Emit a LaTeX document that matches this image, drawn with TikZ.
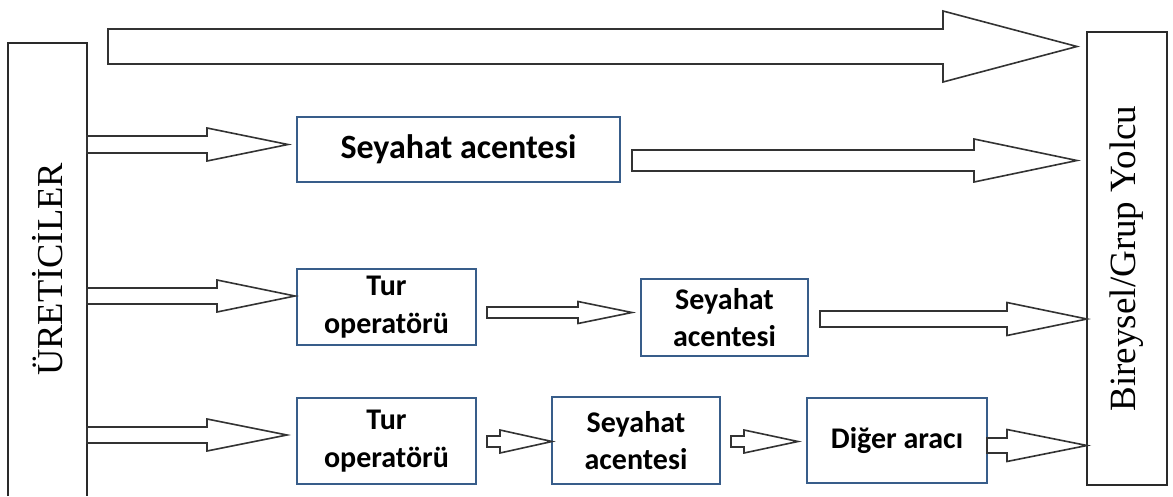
\documentclass[tikz,border=0pt]{standalone}
\usepackage{fontspec}
\setmainfont{Liberation Serif}
\newfontfamily\boxfont{Carlito}
\usetikzlibrary{calc}
\definecolor{boxblue}{HTML}{385D8A}
\definecolor{arrowgray}{HTML}{333333}
\definecolor{sidegray}{HTML}{2A2A2A}
\tikzset{
  sidebox/.style={draw=none, inner sep=0pt, outer sep=0pt},
  sideline/.style={draw=sidegray, line width=1.6pt},
  bluebox/.style={draw=boxblue, line width=2.6pt, fill=white, inner sep=0pt, outer sep=0pt,
    align=center, font=\boxfont\bfseries\fontsize{30}{37.5}\selectfont},
  blockarrow/.style={draw=arrowgray, line width=1.6pt, fill=white, line join=miter}
}
\newcommand{\barrow}[5]{%
  \draw[blockarrow] let \p1=(#1), \p2=(#2) in
    (\x1,\y1+#3) -- (\x2-#5,\y1+#3) -- (\x2-#5,\y1+#4) -- (\x2,\y1)
    -- (\x2-#5,\y1-#4) -- (\x2-#5,\y1-#3) -- (\x1,\y1-#3) -- cycle;}
\begin{document}
\begin{tikzpicture}[x=1pt,y=-1pt]
\useasboundingbox (0,0) rectangle (1173,496);
% side boxes
\node[sidebox, minimum width=79pt, minimum height=453pt] (prod) at (47.5,269.5)
  {\rotatebox{90}{\fontsize{36.5}{40}\selectfont ÜRETİCİLER}};
\draw[sideline] (prod.south west) -- (prod.north west) -- (prod.north east) -- (prod.south east);
\node[sidebox, draw=sidegray, line width=1.6pt, minimum width=80pt, minimum height=453pt] (pax) at (1127,258.5)
  {\rotatebox{90}{\fontsize{37}{40}\selectfont Bireysel/Grup Yolcu}};
% blue boxes
\node[bluebox, minimum width=323pt, minimum height=65pt, font=\boxfont\bfseries\fontsize{34}{40}\selectfont] (sa1) at (458.5,149.5) {Seyahat acentesi};
\node[bluebox, minimum width=179pt, minimum height=76pt] (to1) at (386.5,307) {Tur\\operatörü};
\node[bluebox, minimum width=167pt, minimum height=77pt] (sa2) at (724.5,317.5) {Seyahat\\acentesi};
\node[bluebox, minimum width=179pt, minimum height=86pt] (to2) at (386.5,441) {Tur\\operatörü};
\node[bluebox, minimum width=168pt, minimum height=87pt] (sa3) at (636,440.5) {Seyahat\\acentesi};
\node[bluebox, minimum width=180pt, minimum height=85pt] (da) at (897,440.5) {Diğer aracı};
% arrows
\coordinate (a0s) at (108,46.5);
\barrow{a0s}{$(pax.west)+(-10,0)$}{17.5pt}{35.5pt}{134pt}
\barrow{$(prod.east |- sa1.west)+(0,-5)$}{$(sa1.west)+(-9,0)$}{8.5pt}{16.5pt}{81pt}
\barrow{$(sa1.east)+(12,11)$}{$(pax.west)+(-10,0)$}{10.5pt}{21.5pt}{103pt}
\barrow{$(prod.east |- to1.west)+(0,-11)$}{$(to1.west)+(-2,0)$}{8pt}{16pt}{78pt}
\barrow{$(to1.east)+(11,5.5)$}{$(sa2.west)+(-9,0)$}{5.5pt}{11pt}{54pt}
\barrow{$(sa2.east)+(12,1.5)$}{pax.west}{8pt}{16.5pt}{80pt}
\barrow{$(prod.east |- to2.west)+(0,-6)$}{$(to2.west)+(-10,0)$}{8pt}{16pt}{80pt}
\barrow{$(to2.east)+(11,0.5)$}{sa3.west}{5.5pt}{11.5pt}{52pt}
\barrow{$(sa3.east)+(11,1)$}{$(da.west)+(-9,0)$}{5.5pt}{11.5pt}{54pt}
\barrow{$(da.east)+(0,5)$}{pax.west}{7.5pt}{16pt}{80pt}
\end{tikzpicture}
\end{document}
